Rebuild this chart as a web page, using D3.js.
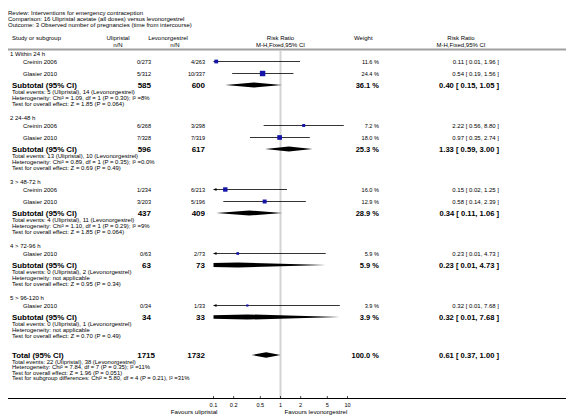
<!DOCTYPE html>
<html><head><meta charset="utf-8">
<script src="https://cdn.jsdelivr.net/npm/d3@7"></script>
<style>
html,body{margin:0;padding:0;background:#fff;}
svg{display:block;font-family:"Liberation Sans",Arial,Helvetica,sans-serif;}
</style></head>
<body>
<svg id="chart" width="566" height="416"></svg>
<script>
// ---------- DATA ----------
const headerLines = [
  "Review:  Interventions for emergency contraception",
  "Comparison:  16 Ulipristal acetate (all doses) versus levonorgestrel",
  "Outcome:  3 Observed number of pregnancies (time from intercourse)"
];
const subgroupNames = ["1 Within 24 h", "2 24-48 h", "3 > 48-72 h", "4 > 72-96 h", "5 > 96-120 h"];

const studyNames   = ["Creinin 2006", "Glasier 2010", "Creinin 2006", "Glasier 2010", "Creinin 2006", "Glasier 2010", "Glasier 2010", "Glasier 2010"];
const studyGroup   = [0, 0, 1, 1, 2, 2, 3, 4];
const uliEvents    = [0, 5, 6, 7, 1, 3, 0, 0];
const uliTotal     = [273, 312, 268, 328, 234, 203, 63, 34];
const levEvents    = [4, 10, 3, 7, 6, 5, 2, 1];
const levTotal     = [263, 337, 298, 319, 213, 196, 73, 33];
const studyWeight  = [11.6, 24.4, 7.2, 18.0, 16.0, 12.9, 5.9, 3.9];
const studyRR      = [0.11, 0.54, 2.22, 0.97, 0.15, 0.58, 0.23, 0.32];
const studyLo      = [0.01, 0.19, 0.56, 0.35, 0.02, 0.14, 0.01, 0.01];
const studyHi      = [1.96, 1.56, 8.80, 2.74, 1.25, 2.39, 4.73, 7.68];

const subUliN      = [585, 596, 437, 63, 34];
const subLevN      = [600, 617, 409, 73, 33];
const subWeight    = [36.1, 25.3, 28.9, 5.9, 3.9];
const subRR        = [0.40, 1.33, 0.34, 0.23, 0.32];
const subLo        = [0.15, 0.59, 0.11, 0.01, 0.01];
const subHi        = [1.05, 3.00, 1.06, 4.73, 7.68];
const subEvents    = [
  "Total events: 5 (Ulipristal), 14 (Levonorgestrel)",
  "Total events: 13 (Ulipristal), 10 (Levonorgestrel)",
  "Total events: 4 (Ulipristal), 11 (Levonorgestrel)",
  "Total events: 0 (Ulipristal), 2 (Levonorgestrel)",
  "Total events: 0 (Ulipristal), 1 (Levonorgestrel)"
];
const subHet = [
  "Heterogeneity: Chi² = 1.09, df = 1 (P = 0.30); I² =8%",
  "Heterogeneity: Chi² = 0.89, df = 1 (P = 0.35); I² =0.0%",
  "Heterogeneity: Chi² = 1.10, df = 1 (P = 0.29); I² =9%",
  "Heterogeneity: not applicable",
  "Heterogeneity: not applicable"
];
const subTest = [
  "Test for overall effect: Z = 1.85 (P = 0.064)",
  "Test for overall effect: Z = 0.69 (P = 0.49)",
  "Test for overall effect: Z = 1.85 (P = 0.064)",
  "Test for overall effect: Z = 0.95 (P = 0.34)",
  "Test for overall effect: Z = 0.70 (P = 0.49)"
];

const totalUliN = 1715, totalLevN = 1732, totalWeight = 100.0;
const totalRR = 0.61, totalLo = 0.37, totalHi = 1.00;
const totalNotes = [
  "Total events: 22 (Ulipristal), 38 (Levonorgestrel)",
  "Heterogeneity: Chi² = 7.84, df = 7 (P = 0.35); I² =11%",
  "Test for overall effect: Z = 1.96 (P = 0.051)",
  "Test for subgroup differences: Chi² = 5.80, df = 4 (P = 0.21), I² =31%"
];

const axisTicks = [0.1, 0.2, 0.5, 1, 2, 5, 10];
const axisTickLabels = ["0.1", "0.2", "0.5", "1", "2", "5", "10"];
const favoursLeft = "Favours ulipristal";
const favoursRight = "Favours levonorgestrel";

// ---------- DRAW ----------
const svg = d3.select("#chart");
const x = d3.scaleLog().domain([0.1, 10]).range([213.5, 347.5]);
const blue = "#1414a8";
const fmt2 = d3.format(".2f");
const fmtW = d3.format(".1f");
const ciText = (r, l, h) => `${fmt2(r)} [ ${fmt2(l)}, ${fmt2(h)} ]`;

const col = { label: 12, study: 23, uli: 151, lev: 205, weight: 379, rr: 499 };

function txt(xp, yp, s, opt = {}) {
  return svg.append("text")
    .attr("x", xp).attr("y", yp)
    .attr("dominant-baseline", "central")
    .attr("text-anchor", opt.anchor || "start")
    .attr("font-size", opt.size || 6)
    .attr("font-weight", opt.bold ? "bold" : "normal")
    .attr("fill", "#000")
    .text(s);
}

// title block
headerLines.forEach((h, i) => txt(col.label - 4, 12.5 + i * 6.3, h, { size: 6 }));

// column headers
txt(col.label, 38, "Study or subgroup");
txt(118, 38, "Ulipristal", { anchor: "middle" });
txt(118, 45, "n/N", { anchor: "middle" });
txt(168, 38, "Levonorgestrel", { anchor: "middle" });
txt(175, 45, "n/N", { anchor: "middle" });
txt(x(1), 38, "Risk Ratio", { anchor: "middle" });
txt(x(1), 45, "M-H,Fixed,95% CI", { anchor: "middle" });
txt(354, 38, "Weight");
txt(461, 38, "Risk Ratio", { anchor: "middle" });
txt(461, 45, "M-H,Fixed,95% CI", { anchor: "middle" });

// header rule
svg.append("line").attr("x1", 8).attr("x2", 566).attr("y1", 49.5).attr("y2", 49.5)
  .attr("stroke", "#a0a0a0").attr("stroke-width", 2);

// null line
svg.append("line").attr("x1", x(1)).attr("x2", x(1)).attr("y1", 50.5).attr("y2", 398)
  .attr("stroke", "#d4d4d4").attr("stroke-width", 2);

const xmin = x.domain()[0], xmax = x.domain()[1];
const clampX = v => x(Math.max(xmin, Math.min(xmax, v)));

svg.append("clipPath").attr("id", "clip-plot").append("rect")
  .attr("x", x(xmin)).attr("y", 0).attr("width", x(xmax) - x(xmin)).attr("height", 416);

function drawCI(y, r, l, h, w) {
  const x1 = clampX(l), x2 = clampX(h);
  svg.append("line").attr("x1", x1).attr("x2", x2).attr("y1", y).attr("y2", y)
    .attr("stroke", "#000").attr("stroke-width", 0.8);
  if (l < xmin) {
    svg.append("path").attr("d", `M${x1},${y} l3,-1.4 l0,2.8 z`).attr("fill", "#000");
  }
  if (h > xmax) {
    svg.append("path").attr("d", `M${x2},${y} l-3,-1.4 l0,2.8 z`).attr("fill", "#000");
  }
  const s = Math.max(1.2, 1.1 * Math.sqrt(w));
  svg.append("rect").attr("x", x(r) - s / 2).attr("y", y - s / 2)
    .attr("width", s).attr("height", s).attr("fill", blue);
}

function drawDiamond(y, r, l, h, hh) {
  const pts = [[x(l), y], [x(r), y - hh], [x(h), y], [x(r), y + hh]];
  svg.append("path")
    .attr("d", d3.line()(pts) + "Z")
    .attr("fill", "#000")
    .attr("clip-path", "url(#clip-plot)");
}

// rows
let y = 54;
subgroupNames.forEach((g, gi) => {
  txt(col.label - 2, y, g, { size: 6 });
  y += 7.5;
  const idx = d3.range(studyNames.length).filter(i => studyGroup[i] === gi);
  idx.forEach((i, k) => {
    if (k > 0) y += 12;
    txt(col.study, y, studyNames[i], { size: 6 });
    txt(col.uli, y, `${uliEvents[i]}/${uliTotal[i]}`, { anchor: "end", size: 5.6 });
    txt(col.lev, y, `${levEvents[i]}/${levTotal[i]}`, { anchor: "end", size: 5.6 });
    drawCI(y, studyRR[i], studyLo[i], studyHi[i], studyWeight[i]);
    txt(col.weight, y, `${fmtW(studyWeight[i])} %`, { anchor: "end", size: 5.6 });
    txt(col.rr, y, ciText(studyRR[i], studyLo[i], studyHi[i]), { anchor: "end", size: 6 });
  });
  y += 11.5;
  txt(col.label, y, "Subtotal (95% CI)", { bold: true, size: 7.9 });
  txt(col.uli, y, subUliN[gi], { anchor: "end", bold: true, size: 8 });
  txt(col.lev, y, subLevN[gi], { anchor: "end", bold: true, size: 8 });
  drawDiamond(y, subRR[gi], subLo[gi], subHi[gi], 2.6);
  txt(col.weight, y, `${fmtW(subWeight[gi])} %`, { anchor: "end", bold: true, size: 7.5 });
  txt(col.rr, y, ciText(subRR[gi], subLo[gi], subHi[gi]), { anchor: "end", bold: true, size: 7.6 });
  y += 6.5; txt(col.label, y, subEvents[gi]);
  y += 6;   txt(col.label, y, subHet[gi]);
  y += 6;   txt(col.label, y, subTest[gi]);
  y += 14.5;
});

// total
y += 5;
txt(col.label, y, "Total (95% CI)", { bold: true, size: 7.9 });
txt(col.uli + 4, y, totalUliN, { anchor: "end", bold: true, size: 8 });
txt(col.lev, y, totalLevN, { anchor: "end", bold: true, size: 8 });
drawDiamond(y, totalRR, totalLo, totalHi, 2.8);
txt(col.weight, y, `${fmtW(totalWeight)} %`, { anchor: "end", bold: true, size: 7.5 });
txt(col.rr, y, ciText(totalRR, totalLo, totalHi), { anchor: "end", bold: true, size: 7.6 });
y += 6.6;
totalNotes.forEach((n) => { txt(col.label, y, n, { size: 5.9 }); y += 5.6; });

// axis
const axisY = 398.5;
svg.append("line").attr("x1", 8).attr("x2", 566).attr("y1", axisY).attr("y2", axisY)
  .attr("stroke", "#000").attr("stroke-width", 1);
axisTicks.forEach((t, i) => {
  svg.append("line").attr("x1", x(t)).attr("x2", x(t)).attr("y1", axisY - 2.5).attr("y2", axisY)
    .attr("stroke", "#000").attr("stroke-width", 0.7);
  txt(x(t), 405, axisTickLabels[i], { anchor: "middle", size: 5.6 });
});
txt(217.5, 411.5, favoursLeft, { anchor: "end", size: 6.2 });
txt(x(1) + 4, 411.5, favoursRight, { anchor: "start", size: 6.2 });
</script>
</body></html>
